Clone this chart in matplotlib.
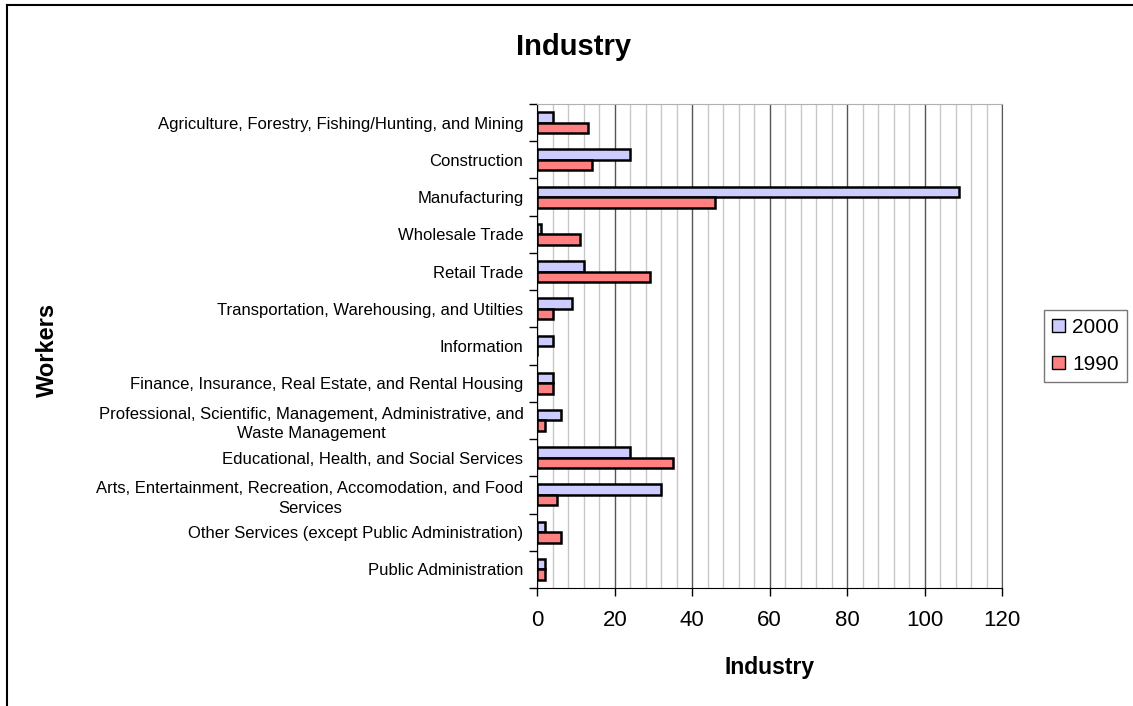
import numpy as np
import matplotlib
matplotlib.use('Agg')
import matplotlib.pyplot as plt
from matplotlib.ticker import MultipleLocator, FixedLocator
from matplotlib.lines import Line2D

plt.rcParams['font.family'] = ['Liberation Sans', 'DejaVu Sans']

# data
categories = [
	"Agriculture, Forestry, Fishing/Hunting, and Mining",
	"Construction",
	"Manufacturing",
	"Wholesale Trade",
	"Retail Trade",
	"Transportation, Warehousing, and Utilties",
	"Information",
	"Finance, Insurance, Real Estate, and Rental Housing",
	"Professional, Scientific, Management, Administrative, and\nWaste Management",
	"Educational, Health, and Social Services",
	"Arts, Entertainment, Recreation, Accomodation, and Food\nServices",
	"Other Services (except Public Administration)",
	"Public Administration",
]
workers_2000 = [4, 24, 109, 1, 12, 9, 4, 4, 6, 24, 32, 2, 2]
workers_1990 = [13, 14, 46, 11, 29, 4, 0, 4, 2, 35, 5, 6, 2]
x_ticks = [0, 20, 40, 60, 80, 100, 120]

W, H = 1133, 706
fig = plt.figure(figsize=(W / 100, H / 100), dpi=100)
ax = fig.add_axes([537.3 / W, 118 / H, 464.7 / W, 484 / H])

y = np.arange(len(categories))
h = 0.28
ax.barh(y - h / 2, workers_2000, height=h, color='#CCCCFF', edgecolor='black',
		linewidth=1.8, label='2000', zorder=3)
ax.barh(y + h / 2, workers_1990, height=h, color='#FF8080', edgecolor='black',
		linewidth=1.8, label='1990', zorder=3)

ax.set_xlim(0, 120)
ax.set_ylim(len(categories) - 0.5, -0.5)

ax.xaxis.set_major_locator(FixedLocator(x_ticks))
ax.xaxis.set_minor_locator(MultipleLocator(4))
ax.grid(which='minor', axis='x', color='#c8c8c8', linewidth=1.0, zorder=0)
ax.grid(which='major', axis='x', color='#555555', linewidth=1.0, zorder=1)
ax.tick_params(axis='x', which='minor', length=0)
ax.tick_params(axis='x', which='major', direction='out', length=6, width=1,
			   labelsize=16, pad=10)

ax.set_yticks(y)
ax.set_yticklabels(categories, fontsize=12, multialignment='center',
				   linespacing=1.35)
ax.tick_params(axis='y', which='major', length=0, pad=10)
ax.yaxis.set_minor_locator(FixedLocator(np.arange(-0.5, len(categories), 1.0)))
ax.tick_params(axis='y', which='minor', direction='out', length=6, width=1)

ax.spines['left'].set_color('black')
ax.spines['bottom'].set_color('black')
ax.spines['top'].set_color('#b0b0b0')
ax.spines['right'].set_color('#555555')

ax.set_xlabel('Industry', fontsize=16.5, fontweight='bold')
ax.xaxis.set_label_coords(0.5, -0.14)
ax.set_ylabel('Workers', fontsize=17, fontweight='bold')
ax.yaxis.set_label_coords(-1.03, 0.492)

fig.text(574 / W, 1 - 47 / H, 'Industry', fontsize=21, fontweight='bold',
		 ha='center', va='center')

leg = ax.legend(loc='center left', bbox_to_anchor=(1044 / W, 1 - 346 / H),
				bbox_transform=fig.transFigure, fontsize=15, frameon=True,
				fancybox=False, edgecolor='#555555', handlelength=0.6,
				handleheight=0.6, handletextpad=0.35, borderpad=0.4,
				labelspacing=0.85, borderaxespad=0)
leg.get_frame().set_linewidth(1.0)
for p in leg.get_patches():
	p.set_linewidth(1.0)

# outer chart border (top and left only visible)
fig.add_artist(Line2D([7 / W, 1.0], [1 - 5 / H, 1 - 5 / H], color='black',
					  linewidth=1.5, transform=fig.transFigure))
fig.add_artist(Line2D([7 / W, 7 / W], [0.0, 1 - 5 / H], color='black',
					  linewidth=1.5, transform=fig.transFigure))

fig.savefig('out.png', dpi=100)
